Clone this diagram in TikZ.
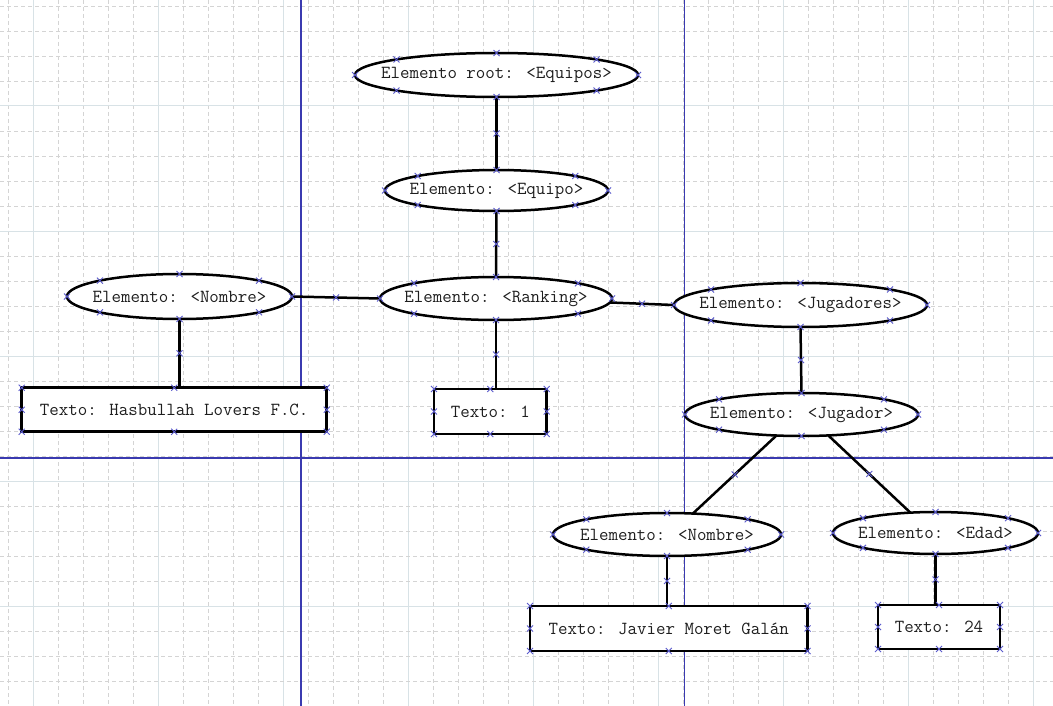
\documentclass[tikz,border=0pt]{standalone}
\usepackage{fontspec}
\usetikzlibrary{shapes.geometric,calc}
\definecolor{gridd}{HTML}{D4D4D4}
\definecolor{grids}{HTML}{D8E2E6}
\definecolor{pageblue}{HTML}{3A3AB0}
\definecolor{mkblue}{HTML}{5A5ACC}
\definecolor{txt}{HTML}{1E1E1E}
\tikzset{
  elli/.style={ellipse, draw=black, line width=2.5pt, fill=white, inner sep=0pt, outer sep=0pt,
    font=\fontsize{18.4}{20}\selectfont\ttfamily, text=txt},
  tbox/.style={rectangle, draw=black, line width=2.5pt, fill=white, inner sep=0pt, outer sep=0pt,
    font=\fontsize{18.4}{20}\selectfont\ttfamily, text=txt},
  conn/.style={draw=black, line width=2.5pt},
  mk/.style={draw=mkblue, line width=0.9pt},
  gdash/.style={draw=gridd, line width=0.8pt, dash pattern=on 4pt off 3pt},
  gsolid/.style={draw=grids, line width=1pt},
  pageline/.style={draw=pageblue, line width=1.4pt},
}
\newcommand\xmk[1]{\draw[mk] (#1) ++(-3,-3) -- ++(6,6) (#1) ++(-3,3) -- ++(6,-6);}
\newcommand\shapemarks[1]{\foreach \a in {north,south,east,west,north east,north west,south east,south west}{\xmk{#1.\a}}}
\newcommand\ctext[1]{\makebox[0pt][c]{#1}}
\begin{document}
\begin{tikzpicture}[x=1pt,y=-1pt]
\useasboundingbox (0,0) rectangle (1053,706);
\fill[white] (0,0) rectangle (1053,706);
% grid
\foreach \i in {0,...,42}{
  \pgfmathtruncatemacro\r{mod(\i,5)}
  \ifnum\r=1
    \draw[gsolid] (8.3+25*\i,0) -- (8.3+25*\i,706);
  \else
    \draw[gdash] (8.3+25*\i,0) -- (8.3+25*\i,706);
  \fi
}
\foreach \j in {0,...,28}{
  \pgfmathtruncatemacro\r{mod(\j,5)}
  \ifnum\r=4
    \draw[gsolid] (0,6+25*\j) -- (1053,6+25*\j);
  \else
    \draw[gdash] (0,6+25*\j) -- (1053,6+25*\j);
  \fi
}
% page break lines
\draw[pageline] (301,0) -- (301,706);
\draw[pageline] (684.5,0) -- (684.5,706);
\draw[pageline] (0,458) -- (1053,458);

% nodes
\node[elli, minimum width=283, minimum height=44] (root) at (496.5,75) {\ctext{Elemento root: <Equipos>}};
\node[elli, minimum width=223, minimum height=41] (equipo) at (496.5,190.5) {\ctext{Elemento: <Equipo>}};
\node[elli, minimum width=232, minimum height=43] (rank) at (496,298.5) {\ctext{Elemento: <Ranking>}};
\node[elli, minimum width=225, minimum height=45] (nom1) at (179.5,296.5) {\ctext{Elemento: <Nombre>}};
\node[elli, minimum width=253, minimum height=44] (jugs) at (800.5,305) {\ctext{Elemento: <Jugadores>}};
\node[elli, minimum width=233, minimum height=43] (jug) at (801.5,414.5) {\ctext{Elemento: <Jugador>}};
\node[elli, minimum width=228, minimum height=43] (nom2) at (667,534.5) {\ctext{Elemento: <Nombre>}};
\node[elli, minimum width=205, minimum height=42] (edad) at (935.5,533) {\ctext{Elemento: <Edad>}};
\node[tbox, minimum width=305, minimum height=44] (tx1) at (174.2,409.7) {Texto: Hasbullah Lovers F.C.};
\node[tbox, minimum width=112.7, minimum height=45] (tx2) at (490.3,411.5) {Texto: 1};
\node[tbox, minimum width=277.5, minimum height=45] (tx3) at (668.75,628.5) {Texto: Javier Moret Galán};
\node[tbox, minimum width=122, minimum height=44] (tx4) at (939,627) {Texto: 24};

% connectors
\draw[conn] (root.south) -- (equipo.north);
\draw[conn] (equipo.south) -- (rank.north);
\draw[conn] (nom1.east) -- (rank.west);
\draw[conn] (rank.-2.3) -- (jugs.west);
\draw[conn] (nom1.south) -- (nom1.south |- tx1.north);
\draw[conn] (rank.south) -- (rank.south |- tx2.north);
\draw[conn] (jugs.south) -- (jug.north);
\draw[conn] (jug.220.6) -- (nom2.39.5);
\draw[conn] (jug.-38.3) -- (edad.141.5);
\draw[conn] (nom2.south) -- (nom2.south |- tx3.north);
\draw[conn] (edad.south) -- (edad.south |- tx4.north);

% handle markers
\foreach \n in {root,equipo,rank,nom1,jugs,jug,nom2,edad,tx1,tx2,tx3,tx4}{\shapemarks{\n}}
\xmk{$(root.south)!.5!(equipo.north)$}
\xmk{$(equipo.south)!.5!(rank.north)$}
\xmk{$(nom1.east)!.5!(rank.west)$}
\xmk{$(rank.-2.3)!.5!(jugs.west)$}
\xmk{$(nom1.south)!.5!(nom1.south |- tx1.north)$}
\xmk{$(rank.south)!.5!(rank.south |- tx2.north)$}
\xmk{$(jugs.south)!.5!(jug.north)$}
\xmk{$(jug.220.6)!.5!(nom2.39.5)$}
\xmk{$(jug.-38.3)!.5!(edad.141.5)$}
\xmk{$(nom2.south)!.5!(nom2.south |- tx3.north)$}
\xmk{$(edad.south)!.5!(edad.south |- tx4.north)$}
\end{tikzpicture}
\end{document}
